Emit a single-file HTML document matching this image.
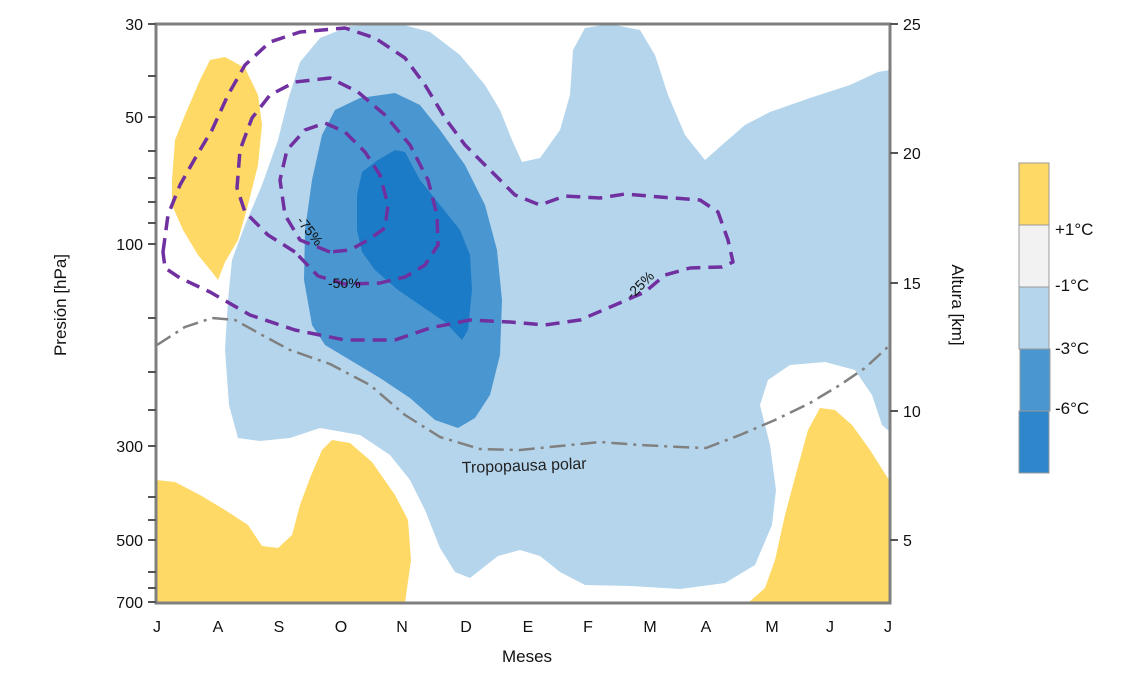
<!DOCTYPE html>
<html><head><meta charset="utf-8"><style>
html,body{margin:0;padding:0;background:#fff;}
svg{display:block;font-family:"Liberation Sans",sans-serif;}
</style></head><body>
<svg width="1141" height="673" viewBox="0 0 1141 673" xmlns="http://www.w3.org/2000/svg">
<defs><clipPath id="c"><rect x="156" y="25" width="733" height="577"/></clipPath></defs>
<g clip-path="url(#c)" stroke-linejoin="round">
<polygon fill="#B5D5EC" points="228,300 232,260 245,225 262,185 278,140 288,100 300,62 320,38 350,26 400,24 430,32 460,55 485,85 500,110 512,140 522,162 540,158 560,130 570,95 573,50 585,28 610,24 640,30 655,55 668,95 685,135 705,160 722,145 745,125 770,112 810,98 850,85 878,72 890,70 890,432 882,425 872,395 855,370 825,362 790,365 768,380 760,405 770,445 776,490 772,525 755,565 725,583 680,589 630,586 585,585 560,572 540,556 520,550 498,556 470,578 455,572 440,548 425,510 410,480 390,455 360,435 320,428 290,438 260,441 238,438 229,405 225,350"/>
<polygon fill="#4A96D0" points="312,325 304,280 305,230 312,180 322,135 335,110 360,98 395,93 420,105 440,130 465,165 485,205 497,250 502,300 500,355 490,395 475,418 458,428 435,420 410,398 380,378 350,360 325,345"/>
<polygon fill="#1B7BC6" points="357,230 357,195 362,172 378,160 395,150 405,152 420,180 440,205 460,230 470,255 472,290 468,330 462,340 445,322 420,305 398,290 375,270 362,252"/>
<polygon fill="#FED966" points="172,180 175,140 185,115 200,80 210,60 225,57 245,68 258,95 262,125 258,165 248,205 238,240 225,262 218,280 212,272 198,255 183,230 172,205"/>
<polygon fill="#FED966" points="156,480 175,482 200,495 225,510 248,525 262,546 278,548 292,535 300,505 310,478 322,450 332,440 350,443 372,462 395,495 408,520 411,560 405,603 156,603"/>
<polygon fill="#FED966" points="748,603 765,588 775,560 785,515 797,470 808,430 820,408 835,410 852,425 870,450 889,480 889,603"/>
<g fill="none" stroke="#7030A0" stroke-width="3.5" stroke-dasharray="14,8">
<polygon points="163,252 168,215 180,185 197,155 212,130 228,95 245,65 270,42 300,32 345,28 375,38 405,58 425,85 445,118 465,145 490,170 515,195 540,205 565,196 600,198 625,194 660,197 700,200 718,212 728,240 733,262 722,267 690,268 665,275 645,292 615,305 580,320 545,325 510,322 470,320 430,328 395,340 345,340 295,330 250,315 210,292 180,278 165,268"/>
<polygon points="295,252 268,235 245,212 237,188 240,150 252,118 270,95 295,82 330,78 358,92 385,115 410,145 428,180 437,215 438,245 425,265 405,277 380,283 345,284 318,276"/>
<polygon points="330,252 300,240 285,215 280,180 287,150 305,130 325,123 345,132 365,152 380,175 388,205 385,228 368,240 350,250"/>
</g>
<polyline fill="none" stroke="#808080" stroke-width="2.5" stroke-dasharray="16,6,3,6" points="157,345 185,327 212,318 235,320 262,335 290,350 330,364 370,385 405,415 440,437 480,449 520,450 560,446 600,442 640,445 680,447 706,448 740,435 775,420 810,403 840,385 865,368 890,345"/>
</g>
<text x="462" y="473" font-size="16" fill="#222" transform="rotate(-2 462 473)">Tropopausa polar</text>
<text x="296" y="221" font-size="14" fill="#111" transform="rotate(52 296 221)">-75%</text>
<text x="328" y="288" font-size="14" fill="#111">-50%</text>
<text x="632" y="300" font-size="14" fill="#111" transform="rotate(-45 632 300)">-25%</text>
<rect x="156" y="24" width="734" height="579" fill="none" stroke="#7f7f7f" stroke-width="3"/>
<g stroke="#555" stroke-width="2">
<line x1="148" y1="24" x2="156" y2="24"/><line x1="148" y1="76" x2="156" y2="76"/><line x1="148" y1="117" x2="156" y2="117"/><line x1="148" y1="151" x2="156" y2="151"/><line x1="148" y1="178" x2="156" y2="178"/><line x1="148" y1="202" x2="156" y2="202"/><line x1="148" y1="223" x2="156" y2="223"/><line x1="148" y1="244" x2="156" y2="244"/><line x1="148" y1="318" x2="156" y2="318"/><line x1="148" y1="372" x2="156" y2="372"/><line x1="148" y1="410" x2="156" y2="410"/><line x1="148" y1="446" x2="156" y2="446"/><line x1="148" y1="497" x2="156" y2="497"/><line x1="148" y1="520" x2="156" y2="520"/><line x1="148" y1="540" x2="156" y2="540"/><line x1="148" y1="572" x2="156" y2="572"/><line x1="148" y1="588" x2="156" y2="588"/><line x1="148" y1="602" x2="156" y2="602"/>
<line x1="890" y1="24" x2="898" y2="24"/><line x1="890" y1="153" x2="898" y2="153"/><line x1="890" y1="283" x2="898" y2="283"/><line x1="890" y1="411" x2="898" y2="411"/><line x1="890" y1="540" x2="898" y2="540"/>
</g>
<g font-size="16" fill="#111" text-anchor="end">
<text x="143" y="30">30</text><text x="143" y="123">50</text><text x="143" y="250">100</text><text x="143" y="452">300</text><text x="143" y="546">500</text><text x="143" y="608">700</text>
</g>
<g font-size="16" fill="#111">
<text x="903" y="30">25</text><text x="903" y="159">20</text><text x="903" y="289">15</text><text x="903" y="417">10</text><text x="903" y="546">5</text>
</g>
<g font-size="16" fill="#111" text-anchor="middle">
<text x="157" y="632">J</text><text x="218" y="632">A</text><text x="279" y="632">S</text><text x="341" y="632">O</text><text x="402" y="632">N</text><text x="466" y="632">D</text><text x="528" y="632">E</text><text x="588" y="632">F</text><text x="650" y="632">M</text><text x="706" y="632">A</text><text x="772" y="632">M</text><text x="830" y="632">J</text><text x="888" y="632">J</text>
<text x="527" y="662" font-size="17">Meses</text>
<text x="0" y="0" font-size="17" transform="translate(66 305) rotate(-90)">Presión [hPa]</text>
<text x="0" y="0" font-size="17" transform="translate(952 305) rotate(90)">Altura [km]</text>
</g>
<g stroke="#999" stroke-width="1">
<rect x="1019" y="163" width="30" height="62" fill="#FED966"/>
<rect x="1019" y="225" width="30" height="62" fill="#F2F2F2"/>
<rect x="1019" y="287" width="30" height="62" fill="#B5D5EC"/>
<rect x="1020" y="349" width="30" height="62" fill="#4A96D0"/>
<rect x="1019" y="411" width="30" height="62" fill="#2E86CB"/>
</g>
<g font-size="17" fill="#111">
<text x="1055" y="235">+1°C</text><text x="1055" y="291">-1°C</text><text x="1055" y="354">-3°C</text><text x="1055" y="414">-6°C</text>
</g>
</svg>
</body></html>
